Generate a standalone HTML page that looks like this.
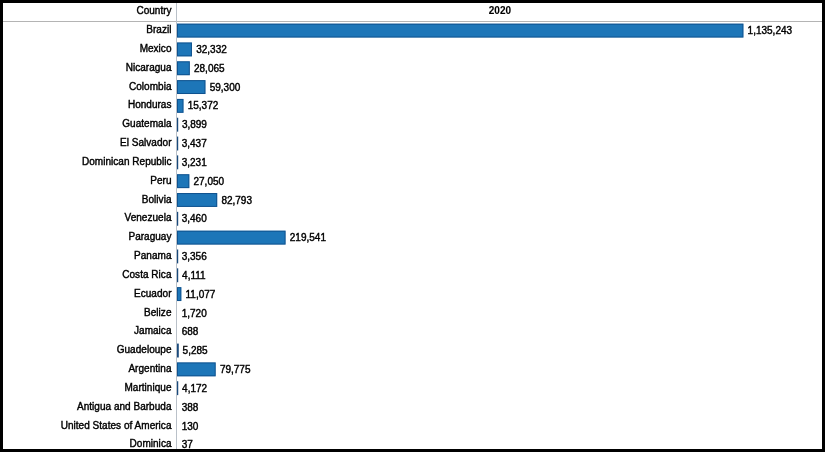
<!DOCTYPE html>
<html><head><meta charset="utf-8"><title>2020 by Country</title>
<style>
html,body{margin:0;padding:0;}
body{width:825px;height:453px;background:#fff;position:relative;overflow:hidden;font-family:"Liberation Sans",Arial,sans-serif;font-size:10px;color:#000;-webkit-text-stroke:0.4px #000;}
.frame{position:absolute;left:0;top:0;width:819px;height:446px;border:3px solid #000;}
.hline{position:absolute;left:3px;top:21px;width:819px;height:1px;background:#b4b4b4;}
.vline{position:absolute;left:176px;top:3px;width:1px;height:446px;background:#bac1c9;}
.lab{position:absolute;letter-spacing:0.03px;left:3px;width:168.5px;text-align:right;white-space:nowrap;line-height:12px;height:12px;}
.val{position:absolute;white-space:nowrap;line-height:12px;height:12px;}
.hd{position:absolute;top:5px;line-height:12px;height:12px;white-space:nowrap;}
.clip{position:absolute;left:3px;top:3px;width:819px;height:446px;overflow:hidden;}
.clip>div.in{position:absolute;left:-3px;top:-3px;width:825px;height:453px;}
svg.bars{position:absolute;left:0;top:0;}
</style></head><body>
<div class="clip"><div class="in">
<div class="hd" style="left:3px;width:168.5px;text-align:right;">Country</div>
<div class="hd" style="left:177.4px;width:645px;text-align:center;font-weight:bold;-webkit-text-stroke:0.1px #000;">2020</div>

<svg class="bars" width="825" height="453" viewBox="0 0 825 453">
<rect x="177" y="23.65" width="566.42" height="13.9" fill="#1d76b8"/>
<rect x="177.5" y="24.15" width="565.42" height="12.9" fill="none" stroke="#003068" stroke-opacity="0.5" stroke-width="1"/>
<rect x="177" y="42.47" width="14.97" height="13.9" fill="#1d76b8"/>
<rect x="177.5" y="42.97" width="13.97" height="12.9" fill="none" stroke="#003068" stroke-opacity="0.5" stroke-width="1"/>
<rect x="177" y="61.29" width="12.83" height="13.9" fill="#1d76b8"/>
<rect x="177.5" y="61.79" width="11.83" height="12.9" fill="none" stroke="#003068" stroke-opacity="0.5" stroke-width="1"/>
<rect x="177" y="80.11" width="28.45" height="13.9" fill="#1d76b8"/>
<rect x="177.5" y="80.61" width="27.45" height="12.9" fill="none" stroke="#003068" stroke-opacity="0.5" stroke-width="1"/>
<rect x="177" y="98.93" width="6.49" height="13.9" fill="#1d76b8"/>
<rect x="177.5" y="99.43" width="5.49" height="12.9" fill="none" stroke="#003068" stroke-opacity="0.5" stroke-width="1"/>
<rect x="176.85" y="117.75" width="1.35" height="13.9" fill="#1a4a7c"/>
<rect x="176.85" y="136.57" width="1.35" height="13.9" fill="#1a4a7c"/>
<rect x="176.85" y="155.39" width="1.35" height="13.9" fill="#1a4a7c"/>
<rect x="177" y="174.21" width="12.33" height="13.9" fill="#1d76b8"/>
<rect x="177.5" y="174.71" width="11.33" height="12.9" fill="none" stroke="#003068" stroke-opacity="0.5" stroke-width="1"/>
<rect x="177" y="193.03" width="40.20" height="13.9" fill="#1d76b8"/>
<rect x="177.5" y="193.53" width="39.20" height="12.9" fill="none" stroke="#003068" stroke-opacity="0.5" stroke-width="1"/>
<rect x="176.85" y="211.85" width="1.35" height="13.9" fill="#1a4a7c"/>
<rect x="177" y="230.67" width="108.57" height="13.9" fill="#1d76b8"/>
<rect x="177.5" y="231.17" width="107.57" height="12.9" fill="none" stroke="#003068" stroke-opacity="0.5" stroke-width="1"/>
<rect x="176.85" y="249.49" width="1.35" height="13.9" fill="#1a4a7c"/>
<rect x="176.85" y="268.31" width="1.36" height="13.9" fill="#1a4a7c"/>
<rect x="177" y="287.13" width="4.34" height="13.9" fill="#1d76b8"/>
<rect x="177.5" y="287.63" width="3.34" height="12.9" fill="none" stroke="#003068" stroke-opacity="0.5" stroke-width="1"/>
<rect x="176.85" y="343.59" width="1.94" height="13.9" fill="#1a4a7c"/>
<rect x="177" y="362.41" width="38.69" height="13.9" fill="#1d76b8"/>
<rect x="177.5" y="362.91" width="37.69" height="12.9" fill="none" stroke="#003068" stroke-opacity="0.5" stroke-width="1"/>
<rect x="176.85" y="381.23" width="1.39" height="13.9" fill="#1a4a7c"/>
</svg>
<div class="lab" style="top:24px">Brazil</div>
<div class="val" style="top:25px;left:747.6px">1,135,243</div>
<div class="lab" style="top:43px">Mexico</div>
<div class="val" style="top:44px;left:196.2px">32,332</div>
<div class="lab" style="top:62px">Nicaragua</div>
<div class="val" style="top:63px;left:194.0px">28,065</div>
<div class="lab" style="top:81px">Colombia</div>
<div class="val" style="top:82px;left:209.7px">59,300</div>
<div class="lab" style="top:99px">Honduras</div>
<div class="val" style="top:100px;left:187.7px">15,372</div>
<div class="lab" style="top:118px">Guatemala</div>
<div class="val" style="top:119px;left:181.9px">3,899</div>
<div class="lab" style="top:137px">El Salvador</div>
<div class="val" style="top:138px;left:181.7px">3,437</div>
<div class="lab" style="top:156px">Dominican Republic</div>
<div class="val" style="top:157px;left:181.7px">3,231</div>
<div class="lab" style="top:175px">Peru</div>
<div class="val" style="top:176px;left:193.5px">27,050</div>
<div class="lab" style="top:194px">Bolivia</div>
<div class="val" style="top:195px;left:221.4px">82,793</div>
<div class="lab" style="top:212px">Venezuela</div>
<div class="val" style="top:213px;left:181.7px">3,460</div>
<div class="lab" style="top:231px">Paraguay</div>
<div class="val" style="top:232px;left:289.8px">219,541</div>
<div class="lab" style="top:250px">Panama</div>
<div class="val" style="top:251px;left:181.7px">3,356</div>
<div class="lab" style="top:269px">Costa Rica</div>
<div class="val" style="top:270px;left:182.1px">4,111</div>
<div class="lab" style="top:288px">Ecuador</div>
<div class="val" style="top:289px;left:185.5px">11,077</div>
<div class="lab" style="top:307px">Belize</div>
<div class="val" style="top:308px;left:181.7px">1,720</div>
<div class="lab" style="top:325px">Jamaica</div>
<div class="val" style="top:326px;left:181.7px">688</div>
<div class="lab" style="top:344px">Guadeloupe</div>
<div class="val" style="top:345px;left:182.6px">5,285</div>
<div class="lab" style="top:363px">Argentina</div>
<div class="val" style="top:364px;left:219.9px">79,775</div>
<div class="lab" style="top:382px">Martinique</div>
<div class="val" style="top:383px;left:182.1px">4,172</div>
<div class="lab" style="top:401px">Antigua and Barbuda</div>
<div class="val" style="top:402px;left:181.7px">388</div>
<div class="lab" style="top:420px">United States of America</div>
<div class="val" style="top:421px;left:181.7px">130</div>
<div class="lab" style="top:438px">Dominica</div>
<div class="val" style="top:439px;left:181.7px">37</div>
</div></div>
<div class="hline"></div>
<div class="vline"></div>
<div class="frame"></div>
</body></html>
